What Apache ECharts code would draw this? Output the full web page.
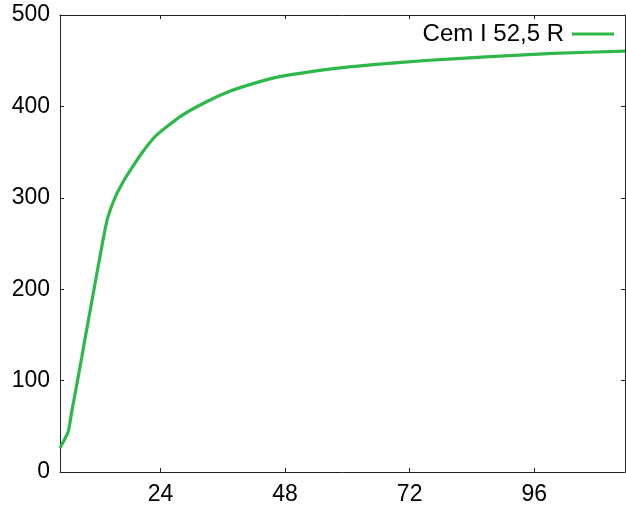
<!DOCTYPE html>
<html>
<head>
<meta charset="utf-8">
<script src="https://cdn.jsdelivr.net/npm/echarts@6/dist/echarts.min.js"></script>
<style>html,body{margin:0;padding:0;background:#fff;}#c{width:626px;height:510px;}</style>
</head>
<body>
<div id="c"></div>
<script>
const seriesName = "Cem I 52,5 R";
const hours = [4.63, 6.23, 6.88, 7.65, 8.15, 8.81, 9.44, 9.77, 11.04, 12.33, 13.29, 13.92, 15.21, 16.81, 18.10, 20.65, 23.23, 27.71, 32.19, 37.33, 42.46, 46.94, 56.56, 66.17, 75.79, 86.69, 99.5, 113.5];
const values = [26.2, 44.4, 65.5, 89.0, 104.5, 125.0, 145.5, 155.5, 195.6, 235.6, 264.8, 280.0, 300.0, 317.5, 329.5, 351.0, 368.6, 388.6, 403.2, 416.5, 426.0, 432.5, 440.8, 446.2, 450.5, 454.1, 458.0, 460.5];
const xTicks = [24, 48, 72, 96];
const yTicks = [0, 100, 200, 300, 400, 500];

const data = hours.map((h, i) => [h, values[i]]);
const font = "'Liberation Sans', Arial, sans-serif";
const axisColor = '#222';
const chart = echarts.init(document.getElementById('c'), null, {renderer: 'canvas'});
const xMin = 4.63, xMax = 113.5;
const baseX = {
  type: 'value', min: xMin, max: xMax,
  splitLine: {show: false},
  axisLine: {show: true, onZero: false, lineStyle: {color: axisColor, width: 1}},
  axisTick: {show: true, inside: true, length: 4, customValues: xTicks, lineStyle: {color: axisColor}},
};
chart.setOption({
  animation: false,
  backgroundColor: '#fff',
  grid: {left: 60, right: 1, top: 15, bottom: 38, containLabel: false},
  legend: {
    show: true, right: 7, top: 17, align: 'right',
    icon: 'rect', itemWidth: 42, itemHeight: 3, itemGap: 10,
    textStyle: {fontFamily: font, fontSize: 24, color: '#000', padding: [0, 3, 0, 0]},
    data: [seriesName]
  },
  xAxis: [
    Object.assign({}, baseX, {
      position: 'bottom',
      axisLabel: {show: true, customValues: xTicks, fontFamily: font, fontSize: 23, color: '#000', margin: 11}
    }),
    Object.assign({}, baseX, {position: 'top', axisLabel: {show: false}})
  ],
  yAxis: [
    {
      type: 'value', min: 0, max: 500, interval: 100, position: 'left',
      splitLine: {show: false},
      axisLine: {show: true, onZero: false, lineStyle: {color: axisColor, width: 1}},
      axisTick: {show: true, inside: true, length: 4, lineStyle: {color: axisColor}},
      axisLabel: {fontFamily: font, fontSize: 23, color: '#000', margin: 10}
    },
    {
      type: 'value', min: 0, max: 500, interval: 100, position: 'right',
      splitLine: {show: false},
      axisLine: {show: true, onZero: false, lineStyle: {color: axisColor, width: 1}},
      axisTick: {show: true, inside: true, length: 4, lineStyle: {color: axisColor}},
      axisLabel: {show: false}
    }
  ],
  series: [{
    name: seriesName, type: 'line', data: data, xAxisIndex: 0, yAxisIndex: 0,
    showSymbol: false, smooth: 0.15,
    lineStyle: {color: '#2fb84a', width: 3.2},
    itemStyle: {color: '#2fb84a'}
  }]
});
</script>
</body>
</html>
